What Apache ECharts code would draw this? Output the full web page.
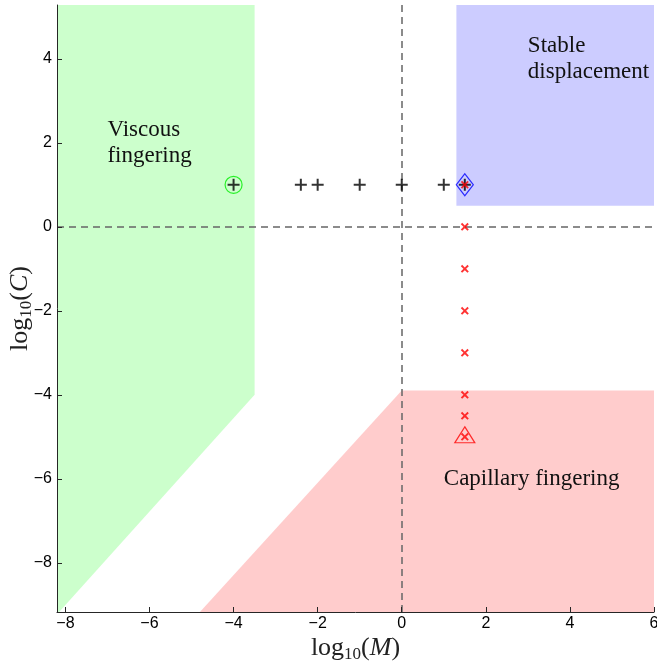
<!DOCTYPE html>
<html>
<head>
<meta charset="utf-8">
<script src="https://cdn.jsdelivr.net/npm/echarts@6/dist/echarts.min.js"></script>
<style>html,body{margin:0;padding:0;background:#fff;}#c{width:657px;height:666px;}</style>
</head>
<body>
<div id="c"></div>
<script>
// Axis extents and ticks
const xMin = -8.2, xMax = 6, yMin = -9.17, yMax = 5.28;
const xTicks = [-8, -6, -4, -2, 0, 2, 4, 6];
const yTicks = [-8, -6, -4, -2, 0, 2, 4];

// Regime regions (log10 M, log10 C)
const viscousRegion = [[-8.2, 5.28], [-3.5, 5.28], [-3.5, -4], [-8.15, -9.17], [-8.2, -9.17]];
const stableRegion = [[1.3, 5.28], [6, 5.28], [6, 0.5], [1.3, 0.5]];
const capillaryRegion = [[-4.8, -9.17], [0, -3.9], [6, -3.9], [6, -9.17]];

// Simulation points
const plusM = [-4, -2.4, -2, -1, 0, 1, 1.5];
const plusC = [1, 1, 1, 1, 1, 1, 1];
const crossM = [1.5, 1.5, 1.5, 1.5, 1.5, 1.5, 1.5, 1.5];
const crossC = [1, 0, -1, -2, -3, -4, -4.5, -5];
const circlePt = [[-4, 1]];
const diamondPt = [[1.5, 1]];
const trianglePt = [[1.5, -5]];

// Region labels
const regionLabels = [
  [-7, 2, 'Viscous\nfingering'],
  [3, 4, 'Stable\ndisplacement'],
  [1, -6, 'Capillary fingering']
];

const zip = (a, b) => a.map((v, i) => [v, b[i]]);

function regionSeries(pts, color) {
  return {
    type: 'custom',
    silent: true,
    data: [0],
    z: 1,
    renderItem: function (params, api) {
      return {
        type: 'polygon',
        shape: { points: pts.map(p => api.coord(p)) },
        style: { fill: color, stroke: null }
      };
    }
  };
}

const serifFont = '"Liberation Serif", "DejaVu Serif", serif';
const plusPath = 'path://M5,0H7V5H12V7H7V12H5V7H0V5H5Z';
const crossPath = 'path://M0,2L2,0L6,4L10,0L12,2L8,6L12,10L10,12L6,8L2,12L0,10L4,6Z';

const chart = echarts.init(document.getElementById('c'), null, { renderer: 'canvas' });
const nameRich = {
  a: { fontFamily: serifFont, fontSize: 26, color: '#222', lineHeight: 30 },
  s: { fontFamily: serifFont, fontSize: 17, color: '#222', verticalAlign: 'bottom', lineHeight: 17 },
  i: { fontFamily: serifFont, fontSize: 26, fontStyle: 'italic', color: '#222', lineHeight: 30 }
};
const axisCommon = {
  z: 10,
  nameMoveOverlap: false,
  axisLine: { show: true, onZero: false, lineStyle: { color: '#262626', width: 1 } },
  axisTick: { show: true, inside: true, length: 5, lineStyle: { color: '#262626' } },
  splitLine: { show: false },
  axisLabel: {
    color: '#000', fontSize: 16, fontFamily: '"Liberation Sans", Arial, sans-serif',
    formatter: v => String(v).replace('-', '\u2212')
  }
};

chart.setOption({
  animation: false,
  backgroundColor: '#fff',
  grid: { left: 57, right: 3, top: 5, bottom: 54, outerBoundsMode: 'none', containLabel: false },
  xAxis: Object.assign({}, axisCommon, {
    type: 'value', min: xMin, max: xMax,
    axisTick: Object.assign({}, axisCommon.axisTick, { customValues: xTicks }),
    axisLabel: Object.assign({}, axisCommon.axisLabel, { customValues: xTicks, margin: 4 }),
    name: '{a|log}{s|10}{a|(}{i|M}{a|)}',
    nameLocation: 'middle', nameGap: 21,
    nameTextStyle: { rich: nameRich }
  }),
  yAxis: Object.assign({}, axisCommon, {
    type: 'value', min: yMin, max: yMax,
    axisTick: Object.assign({}, axisCommon.axisTick, { customValues: yTicks }),
    axisLabel: Object.assign({}, axisCommon.axisLabel, { customValues: yTicks, margin: 5 }),
    name: '{a|log}{s|10}{a|(}{i|C}{a|)}',
    nameLocation: 'middle', nameGap: 22,
    nameTextStyle: { rich: nameRich }
  }),
  series: [
    regionSeries(viscousRegion, '#ccffcc'),
    regionSeries(stableRegion, '#ccccff'),
    regionSeries(capillaryRegion, '#ffcccc'),
    {
      type: 'line', data: [], z: 2, silent: true,
      markLine: {
        silent: true, symbol: 'none', label: { show: false },
        lineStyle: { color: '#666', type: [7, 5], width: 1.5 },
        data: [{ xAxis: 0 }, { yAxis: 0 }]
      }
    },
    {
      type: 'custom', z: 3, silent: true,
      data: regionLabels,
      renderItem: function (params, api) {
        const p = api.coord([api.value(0), api.value(1)]);
        return {
          type: 'text',
          x: p[0], y: p[1],
          style: {
            text: regionLabels[params.dataIndex][2],
            fontFamily: serifFont, fontSize: 23, fill: '#111',
            align: 'left', verticalAlign: 'middle', lineHeight: 26
          }
        };
      }
    },
    {
      type: 'scatter', z: 4, data: circlePt, symbol: 'circle', symbolSize: 17,
      itemStyle: { color: 'rgba(0,0,0,0)', borderColor: '#00ee00', borderWidth: 1.2 }
    },
    {
      type: 'scatter', z: 4, data: diamondPt, symbol: 'diamond', symbolSize: [17, 22],
      itemStyle: { color: 'rgba(0,0,0,0)', borderColor: '#0000ff', borderWidth: 1.2 }
    },
    {
      type: 'scatter', z: 4, data: trianglePt, symbol: 'triangle', symbolSize: [20, 16],
      symbolOffset: [0, -2],
      itemStyle: { color: 'rgba(0,0,0,0)', borderColor: '#ff0000', borderWidth: 1.2 }
    },
    {
      type: 'scatter', z: 5, data: zip(plusM, plusC), symbol: plusPath, symbolSize: 12,
      itemStyle: { color: '#000' }
    },
    {
      type: 'scatter', z: 6, data: zip(crossM, crossC), symbol: crossPath, symbolSize: 8,
      itemStyle: { color: '#ff0000' }
    }
  ]
});
</script>
</body>
</html>
